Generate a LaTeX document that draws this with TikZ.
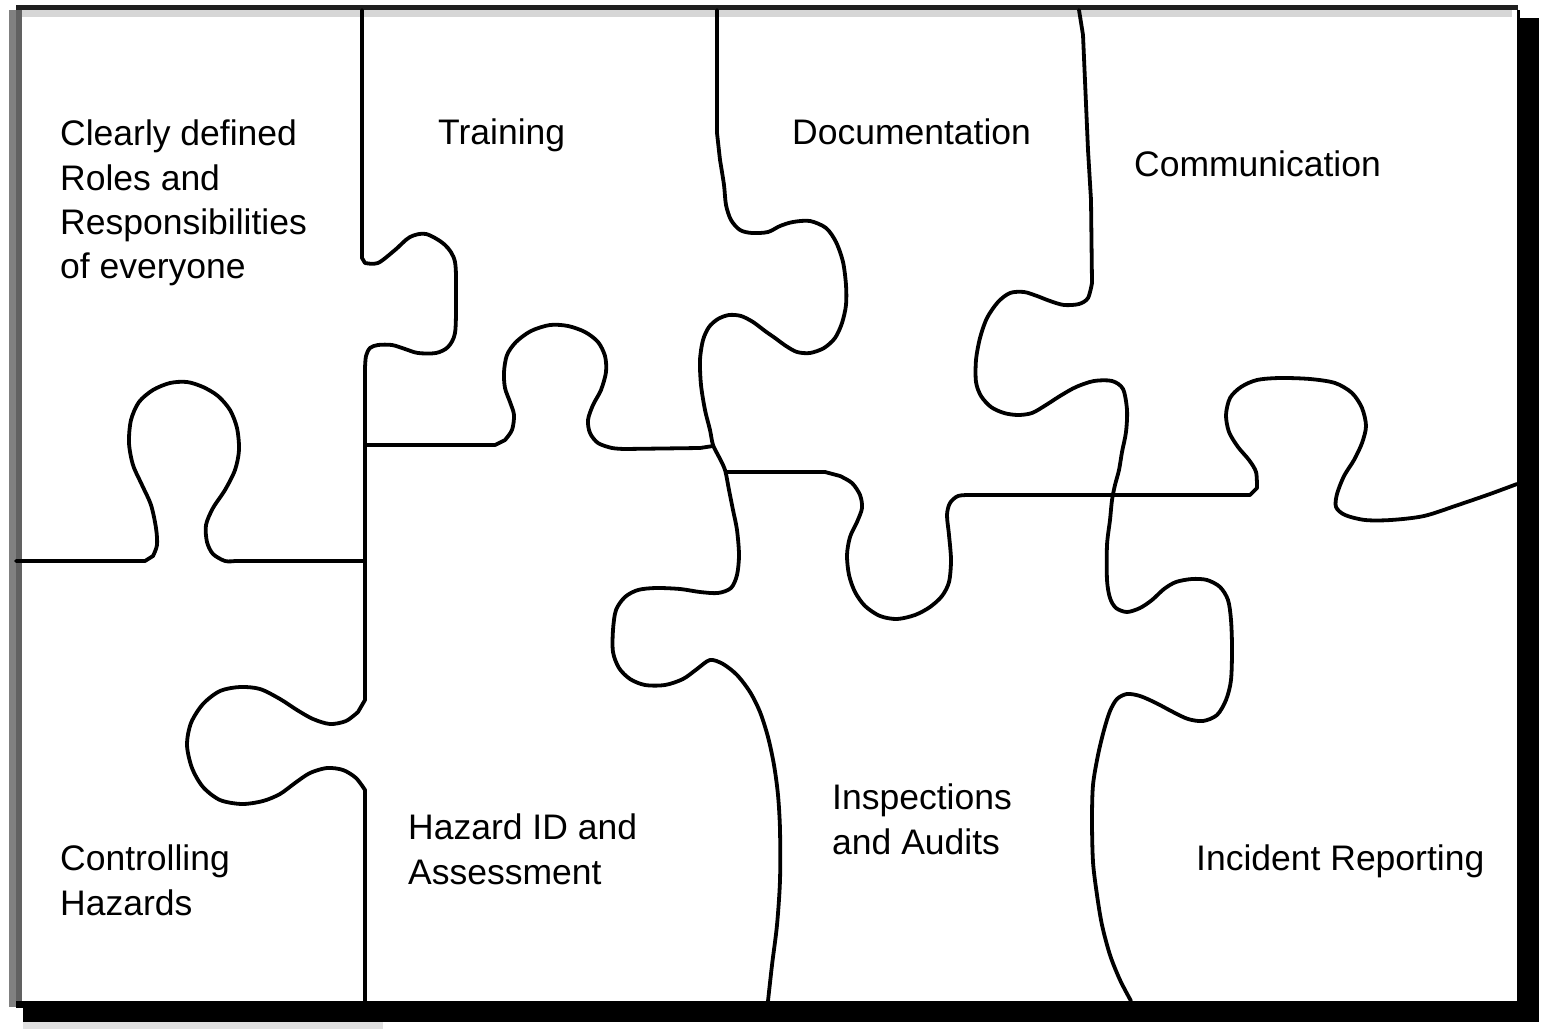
\documentclass[tikz,border=0pt]{standalone}
\usepackage{fontspec}
\setmainfont{Liberation Sans}

\begin{document}
\begin{tikzpicture}[x=1pt, y=-1pt,
    cut/.style={line width=3.8pt, line join=round, line cap=round},
    piece/.style={anchor=base west, inner sep=0pt, align=left,
      font=\fontsize{35.5}{44.5}\selectfont}]

    \useasboundingbox (0,0) rectangle (1544,1032);

    % board with its drop shadow
    \fill[black] (23,18) rectangle (1539,1022);
    \fill[black!12] (23,1022) rectangle (383,1029);
    \fill[white] (16,7) rectangle (1518,1001);
    \fill[black!88] (16,5) rectangle (1518,10);
    \fill[black!16] (22,10) rectangle (1512,17);
    \fill[black!50] (9,10) rectangle (16,1007);
    \fill[black!62] (16,10) rectangle (22,1001);
    \fill[black] (16,1001) rectangle (1518,1008);
    \fill[black] (1517,10) rectangle (1520,1001);

    % cuts between the pieces
    \draw[cut] (362,10) -- (362,258) -- plot[smooth] coordinates {(365,263) (378,263) (395,250) (410,237) (426,234) (445,245) (455,262) (456,300) (455,333) (448,347) (436,353) (418,353) (405,349) (392,345) (378,345) (370,348) (366,356) (365,368)}
        -- (365,700) -- plot[smooth] coordinates {(358,712) (346,721) (330,724) (313,719) (297,710) (280,699) (260,689) (240,687) (220,691) (203,704) (191,723) (187,745) (192,768) (203,787) (220,800) (242,804) (263,801) (280,794) (295,783) (310,773) (327,768) (343,770) (356,778) (365,790)}
        -- (365,1001);
    \draw[cut] (16,561) -- (145,561) -- plot[smooth] coordinates {(153,556) (157,545) (156,528) (151,505) (142,485) (133,465) (129,443) (131,420) (139,402) (153,390) (170,383) (187,382) (203,387) (218,396) (230,410) (237,428) (239,450) (235,470) (225,490) (213,508) (206,525) (207,542) (213,554) (225,561) (235,561)}
        -- (365,561);
    \draw[cut] (365,445) -- (495,445) -- plot[smooth] coordinates {(505,440) (512,430) (514,415) (510,402) (505,388) (504,372) (507,355) (516,342) (531,331) (550,325) (568,326) (585,332) (598,342) (605,356) (606,372) (601,390) (593,405) (588,420) (590,433) (598,443) (612,448) (625,449)}
        -- (700,448) -- (713,446);
    \draw[cut] (717,10) -- (717,133) -- plot[smooth] coordinates {(720,160) (724,185) (726,205) (731,220) (740,230) (752,233) (768,232) (780,226) (793,222) (810,221) (826,228) (836,242) (843,262) (846,285) (846,305) (842,323) (835,338) (824,348) (810,353) (797,352) (786,346) (775,338) (765,331) (753,322) (741,316) (729,315) (718,319) (709,327) (703,340) (700,360) (701,385) (705,410) (710,430) (713,445) (719,457) (725,470) (729,490) (733,510) (737,530) (739,555) (737,575) (731,588) (718,593) (700,592) (680,589) (656,588) (638,590) (625,597) (616,610) (613,630) (613,652) (619,668) (630,679) (645,685) (665,685) (683,679) (697,669) (710,660) (723,664) (737,675) (750,692) (760,712) (768,737) (774,765) (778,795) (780,830) (780,880) (777,925) (772,965) (768,1001)};
    \draw[cut] (727,472) -- (825,472) -- plot[smooth] coordinates {(840,476) (852,483) (860,495) (862,508) (857,522) (850,537) (847,555) (849,575) (855,592) (865,606) (880,616) (897,619) (915,615) (930,607) (942,596) (949,582) (951,560) (949,535) (947,515) (950,503) (958,496) (970,495)}
        -- (1250,495) -- plot[smooth] coordinates {(1257,488) (1256,472) (1249,460) (1238,447) (1229,432) (1226,415) (1230,398) (1241,387) (1257,380) (1280,378) (1310,379) (1335,383) (1352,393) (1362,408) (1366,426) (1362,443) (1354,460) (1344,476) (1337,494) (1336,507) (1345,515) (1365,520) (1391,520) (1424,516) (1458,505) (1490,494) (1517,484)};
    \draw[cut] (1079,10) -- (1083,35) -- (1088,150) -- (1091,200) -- plot[smooth] coordinates {(1092,283) (1088,298) (1079,304) (1064,305) (1050,301) (1037,296) (1024,292) (1010,293) (998,302) (987,318) (980,338) (976,360) (976,382) (981,396) (991,407) (1004,413) (1018,415) (1032,413) (1046,405) (1060,396) (1076,387) (1094,381) (1112,381) (1123,389) (1127,410) (1126,432) (1122,452) (1119,470) (1115,485) (1112,500) (1110,520) (1107,545) (1107,580) (1110,598) (1116,608) (1127,612) (1140,608) (1152,600) (1164,589) (1176,582) (1192,579) (1207,580) (1220,587) (1228,600) (1231,620) (1232,648) (1231,680) (1226,700) (1217,715) (1203,721) (1188,719) (1173,712) (1156,703) (1140,696) (1127,694) (1117,699) (1110,711) (1104,730) (1098,755) (1093,785) (1092,820) (1093,862) (1097,895) (1102,925) (1110,955) (1120,980) (1131,1001)};

    % labels, placed on the baseline of their last line
    \node[piece] at (60,279) (roles) {Clearly defined\\Roles and\\Responsibilities\\of everyone};
    \node[piece] at (438,145) (training) {Training};
    \node[piece] at (792,145) (docs) {Documentation};
    \node[piece] at (1134,177) (comms) {Communication};
    \node[piece] at (60,915) (control) {Controlling\\Hazards};
    \node[piece] at (408,884) (hazid) {Hazard ID and\\Assessment};
    \node[piece] at (832,854) (audits) {Inspections\\and Audits};
    \node[piece] at (1196,870) (incident) {Incident Reporting};
\end{tikzpicture}
\end{document}
